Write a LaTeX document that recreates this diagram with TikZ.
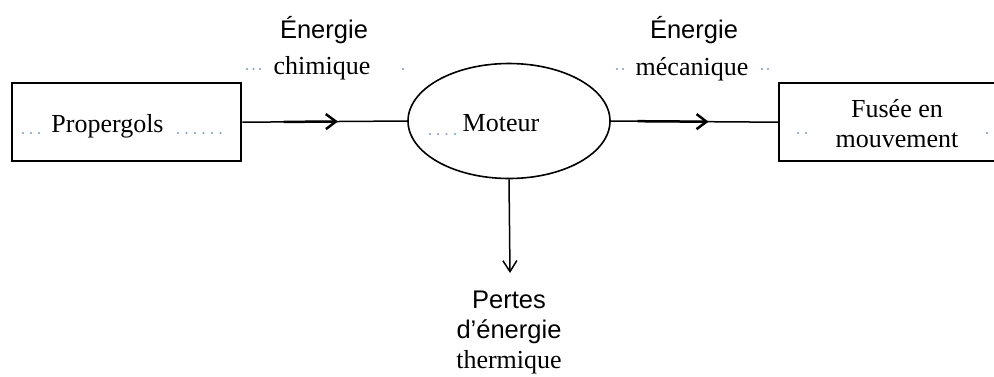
\documentclass[tikz,border=0pt]{standalone}
\usepackage{fontspec}
\setmainfont{Liberation Serif}
\setsansfont{Liberation Sans}
\usetikzlibrary{shapes.geometric,arrows.meta,calc}
\definecolor{dotcol}{HTML}{6F8FC0}

\begin{document}
\begin{tikzpicture}[x=1pt,y=-1pt,
  txt/.style={font=\fontsize{26}{30}\selectfont, inner sep=0pt, anchor=base},
  stxt/.style={font=\sffamily\fontsize{25.5}{30}\selectfont, inner sep=0pt, anchor=base},
  blockbox/.style={draw, line width=2.4pt, minimum height=78pt, inner sep=0pt, anchor=north west},
  engine/.style={draw, ellipse, line width=1.6pt, minimum width=202pt, minimum height=115pt, inner sep=0pt},
  flow/.style={line width=1.5pt},
  flowhead/.style={line width=2.5pt, -{Straight Barb[length=10pt,width=15pt]}},
  filldot/.style={fill=dotcol, draw=none}
]
\useasboundingbox (0,0) rectangle (994,376);
\clip (0,0) rectangle (994,376);

% blocks
\node[blockbox, minimum width=229pt] (prop) at (11,82) {};
\node[blockbox, minimum width=240pt] (fusee) at (778,82) {};
\node[engine] (mot) at (509,121) {};

% labels inside the blocks
\node[txt] (tprop) at (107.5,132) {Propergols};
\node[txt] (tmot) at (501,131) {Moteur};
\node[txt] (tfus1) at (897,117) {Fusée en};
\node[txt] (tfus2) at (897,147) {mouvement};

% energy labels
\node[stxt] (e1a) at (324,38) {Énergie};
\node[txt]  (e1b) at (322,74) {chimique};
\node[stxt] (e2a) at (694,38) {Énergie};
\node[txt]  (e2b) at (692,75) {mécanique};
\node[stxt] (p1) at (509,308) {Pertes};
\node[stxt] (p2) at (509,338) {d’énergie};
\node[txt]  (p3) at (509,368) {thermique};

% connectors
\draw[flow] (prop.east) -- (mot.west);
\draw[flowhead] ($(prop.east)!0.25!(mot.west)$) -- ($(prop.east)!0.58!(mot.west)$);
\draw[flow] (mot.east) -- (fusee.west);
\draw[flowhead] ($(mot.east)!0.16!(fusee.west)$) -- ($(mot.east)!0.585!(fusee.west)$);
\coordinate (loss) at (510,273);
\draw[flow, -{Straight Barb[length=11pt,width=14pt]}] (mot.south) -- (loss);

% dotted fill marks of the form fields
\foreach \px/\py in {247/69, 253.5/69, 260/69, 403/69,
                     617/69, 623/69, 762/69, 768/69,
                     23/133, 31/133, 39/133,
                     178/133, 186.5/133, 195/133, 203.5/133, 212/133, 220.5/133,
                     430/134, 438/134, 446.5/134, 455/134,
                     798/133, 806/133, 987/133}
  \path[filldot] (\px,\py) ellipse [x radius=1.2pt, y radius=0.9pt];
\end{tikzpicture}
\end{document}
